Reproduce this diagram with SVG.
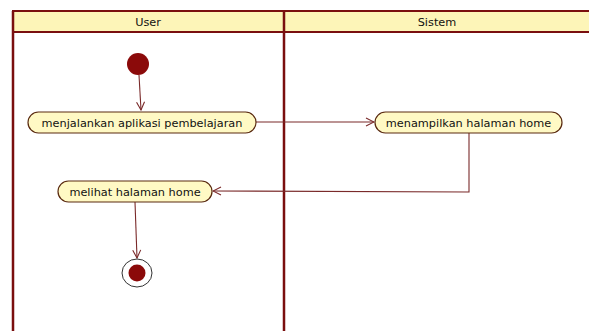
<svg xmlns="http://www.w3.org/2000/svg" width="589" height="331" viewBox="0 0 589 331">
<style>
.frame{fill:none;stroke:#7a0f0f;stroke-width:2.5}
.hdr{fill:#fdf5b8;stroke:#7a0f0f;stroke-width:2}
.act{fill:#fff9c4;stroke:#5a2a10;stroke-width:1.2}
.lbl{font-family:"DejaVu Sans",Verdana,sans-serif;font-size:11.3px;fill:#111;text-anchor:middle}
.conn{fill:none;stroke:#7a2a2a;stroke-width:1.1}
</style>
<defs>
<marker id="arr" markerWidth="10" markerHeight="10" refX="9" refY="5" orient="auto" markerUnits="userSpaceOnUse">
<path d="M1,1 L9,5 L1,9" fill="none" stroke="#7a2a2a" stroke-width="1.1"/>
</marker>
</defs>
<rect width="589" height="331" fill="#ffffff"/>
<g id="swimlanes">
<rect class="hdr" x="13" y="11" width="580" height="21"/>
<line class="frame" x1="13" y1="11" x2="13" y2="331"/>
<line class="frame" x1="284" y1="11" x2="284" y2="331" stroke-width="3"/>
<text class="lbl" x="148" y="25.5">User</text>
<text class="lbl" x="437" y="25.5">Sistem</text>
</g>
<g id="connectors">
<line class="conn" x1="139" y1="75" x2="141" y2="110" marker-end="url(#arr)"/>
<line class="conn" x1="256" y1="122" x2="374" y2="122" marker-end="url(#arr)"/>
<polyline class="conn" points="469,133 469,192 213,191" marker-end="url(#arr)"/>
<line class="conn" x1="135" y1="202" x2="137" y2="258" marker-end="url(#arr)"/>
</g>
<g id="start">
<circle cx="138" cy="64" r="11" fill="#8b0a0a"/>
</g>
<g id="act1">
<rect class="act" x="28" y="112" width="228" height="21" rx="10.5"/>
<text class="lbl" x="142" y="126.5">menjalankan aplikasi pembelajaran</text>
</g>
<g id="act2">
<rect class="act" x="375" y="112" width="187" height="21" rx="10.5"/>
<text class="lbl" x="468.5" y="126.5">menampilkan halaman home</text>
</g>
<g id="act3">
<rect class="act" x="58" y="181" width="154" height="21" rx="10.5"/>
<text class="lbl" x="135" y="195.5">melihat halaman home</text>
</g>
<g id="end">
<ellipse cx="137" cy="273" rx="15" ry="14" fill="#ffffff" stroke="#333" stroke-width="1"/>
<circle cx="137" cy="273" r="8.5" fill="#8b0a0a"/>
</g>
</svg>
